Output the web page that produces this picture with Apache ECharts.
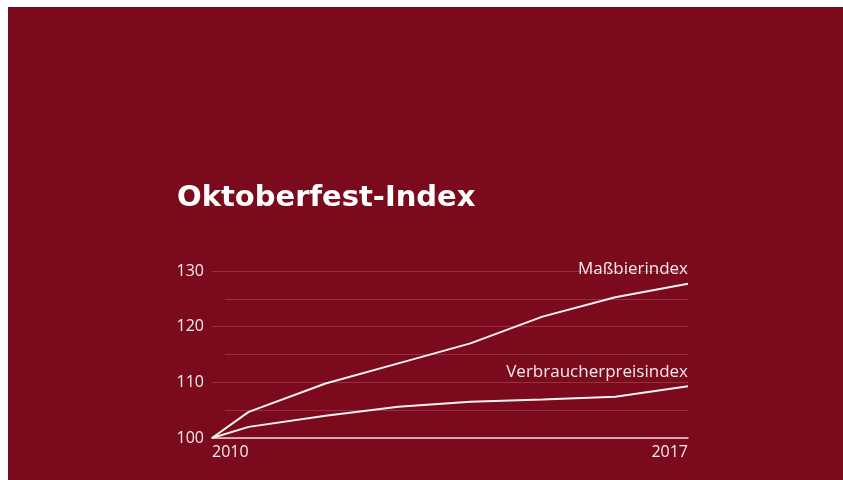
<!DOCTYPE html>
<html>
<head>
<meta charset="utf-8">
<script src="https://cdn.jsdelivr.net/npm/echarts@6/dist/echarts.min.js"></script>
<style>
html,body{margin:0;padding:0;background:#ffffff;}
#chart{position:absolute;left:8px;top:7px;width:835px;height:473px;background:#7b0a1c;}
</style>
</head>
<body>
<div id="chart"></div>
<script>
// Data (index, 2010 = 100)
const titleText = 'Oktoberfest-Index';
const xTicks = [2010, 2017];
const yTicks = [100, 110, 120, 130];
const xPositions = [2010, 2010.54, 2011.67, 2012.74, 2013.80, 2014.86, 2015.93, 2017];
const beerIndex = [100, 104.7, 109.8, 113.4, 117.0, 121.8, 125.3, 127.7];
const cpiIndex = [100, 102.0, 104.0, 105.6, 106.5, 106.9, 107.4, 109.3];
const seriesNames = ['Maßbierindex', 'Verbraucherpreisindex'];

const chart = echarts.init(document.getElementById('chart'), null, {renderer: 'canvas'});
const txt = '#f6ecee';
const font = 'Open Sans';
function pairs(vals){ return vals.map((v, i) => [xPositions[i], v]); }

chart.setOption({
  animation: false,
  backgroundColor: '#7b0a1c',
  title: {
    text: titleText, left: 164, top: 172,
    textStyle: {color: '#ffffff', fontFamily: 'DejaVu Sans', fontWeight: 'bold', fontSize: 29}
  },
  grid: [
    {left: 204, right: 155, top: 264, bottom: 42},
    {left: 217, right: 155, top: 264, bottom: 42}
  ],
  xAxis: [
    {
      type: 'value', gridIndex: 0,
      min: xTicks[0], max: xTicks[xTicks.length - 1],
      interval: xTicks[xTicks.length - 1] - xTicks[0],
      axisLine: {show: true, lineStyle: {color: '#efd9dc', width: 1.5}},
      axisTick: {show: false},
      splitLine: {show: false},
      axisLabel: {
        color: txt, fontFamily: font, fontSize: 16, margin: 6,
        alignMinLabel: 'left', alignMaxLabel: 'right',
        formatter: v => String(v)
      }
    },
    {type: 'value', gridIndex: 1, min: 0, max: 1, show: false}
  ],
  yAxis: [
    {
      type: 'value', gridIndex: 0,
      min: yTicks[0], max: yTicks[yTicks.length - 1], interval: yTicks[1] - yTicks[0],
      axisLine: {show: false}, axisTick: {show: false},
      splitLine: {show: true, lineStyle: {color: '#94303f', width: 1}},
      axisLabel: {color: txt, fontFamily: font, fontSize: 16, margin: 8}
    },
    {
      type: 'value', gridIndex: 1,
      min: yTicks[0], max: yTicks[yTicks.length - 1], interval: yTicks[1] - yTicks[0],
      axisLine: {show: false}, axisTick: {show: false}, axisLabel: {show: false},
      splitLine: {show: false},
      minorTick: {show: false, splitNumber: 2},
      minorSplitLine: {show: true, lineStyle: {color: '#94303f', width: 1}}
    }
  ],
  series: [
    {
      name: seriesNames[0], type: 'line', xAxisIndex: 0, yAxisIndex: 0,
      data: pairs(beerIndex), showSymbol: false, symbol: 'none',
      lineStyle: {color: '#fbf2f3', width: 2},
      endLabel: {
        show: true, formatter: '{a}', color: txt, fontFamily: font, fontSize: 17,
        align: 'right', verticalAlign: 'bottom', offset: [-8, -6]
      }
    },
    {
      name: seriesNames[1], type: 'line', xAxisIndex: 0, yAxisIndex: 0,
      data: pairs(cpiIndex), showSymbol: false, symbol: 'none',
      lineStyle: {color: '#fbf2f3', width: 2},
      endLabel: {
        show: true, formatter: '{a}', color: txt, fontFamily: font, fontSize: 17,
        align: 'right', verticalAlign: 'bottom', offset: [-8, -6]
      }
    }
  ]
});
</script>
</body>
</html>
